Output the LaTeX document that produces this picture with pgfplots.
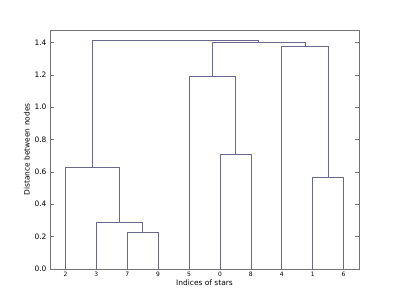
\documentclass[border=0pt]{standalone}
\usepackage{pgfplots}
\pgfplotsset{compat=1.18}
\usepackage{fontspec}
\setmainfont{DejaVu Sans}
\definecolor{lnk}{RGB}{105,105,140}
\tikzset{lk/.style={draw=lnk, line width=0.7bp, mark=none, solid}}
\begin{document}
\begin{tikzpicture}
\begin{axis}[name=ax,
  scale only axis, width=309bp, height=239bp,
  xmin=0, xmax=100, ymin=0, ymax=1.477,
  axis line style={black!55, line width=0.8bp},
  xtick={5,15,25,35,45,55,65,75,85,95},
  xticklabels={2,3,7,9,5,0,8,4,1,6},
  xtick style={draw=none},
  x tick label style={font=\fontsize{6}{7}\selectfont},
  ytick={0,0.2,0.4,0.6,0.8,1.0,1.2,1.4},
  y tick label style={font=\fontsize{7.5}{9}\selectfont, /pgf/number format/.cd, fixed, fixed zerofill, precision=1},
  /pgf/number format/assume math mode=true,
  ytick pos=both, tick align=inside, major tick length=4bp,
  ytick style={black!55, line width=0.6bp},
  xlabel={Indices of stars}, ylabel={Distance between nodes},
  label style={font=\fontsize{7.5}{9}\selectfont},
  xlabel style={yshift=4bp}, ylabel style={yshift=-2bp},
]
\addplot[lk] coordinates {(25,0) (25,0.227) (35,0.227) (35,0)};
\addplot[lk] coordinates {(15,0) (15,0.286) (30,0.286) (30,0.227)};
\addplot[lk] coordinates {(5,0) (5,0.627) (22.5,0.627) (22.5,0.286)};
\addplot[lk] coordinates {(55,0) (55,0.708) (65,0.708) (65,0)};
\addplot[lk] coordinates {(45,0) (45,1.190) (60,1.190) (60,0.708)};
\addplot[lk] coordinates {(85,0) (85,0.569) (95,0.569) (95,0)};
\addplot[lk] coordinates {(75,0) (75,1.373) (90,1.373) (90,0.569)};
\addplot[lk] coordinates {(52.5,1.190) (52.5,1.401) (82.5,1.401) (82.5,1.373)};
\addplot[lk] coordinates {(13.75,0.627) (13.75,1.410) (67.5,1.410) (67.5,1.401)};
\end{axis}
\pgfresetboundingbox
\path[use as bounding box] ([shift={(-50bp,-30bp)}]ax.south west) rectangle ([shift={(40bp,30bp)}]ax.north east);
\end{tikzpicture}
\end{document}
